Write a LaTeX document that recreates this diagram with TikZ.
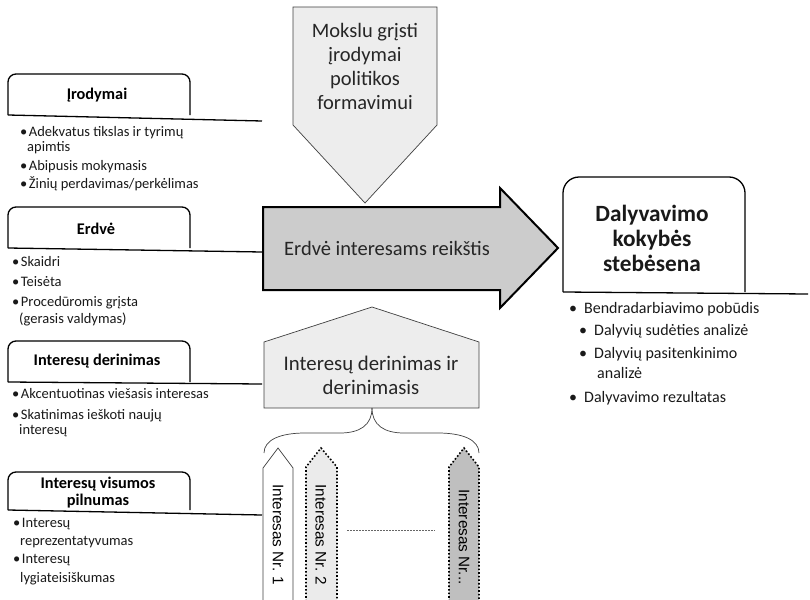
\documentclass[tikz,border=0pt]{standalone}
\usepackage{fontspec}
\setmainfont{Carlito}
\newfontfamily\arialf{Liberation Sans}
\newcommand\bul{•\kern1.5pt}
\begin{document}
\begin{tikzpicture}[x=1pt,y=-1pt,
  lbl/.style={inner sep=0pt, anchor=base west, font=\fontsize{14.5}{15}\selectfont, text=black!90},
  rbl/.style={inner sep=0pt, anchor=base west, font=\fontsize{16}{18}\selectfont, text=black!90},
  ttl/.style={inner sep=0pt, align=center, font=\fontsize{16.3}{17}\selectfont\bfseries},
  tab/.style={line width=1.3pt, rounded corners=8pt},
  bigtxt/.style={inner sep=0pt, align=center, font=\fontsize{20.5}{24}\selectfont, text=black!85},
  vtxt/.style={inner sep=0pt, rotate=-90, font=\arialf\fontsize{15.3}{16}\selectfont}
]
\useasboundingbox (0,0) rectangle (810,599);
\clip (0,0) rectangle (810,599);

% ---------- left tabs ----------
\draw[tab] (8,115) -- (8,74) -- (190,74) -- (190,115);
\draw[line width=1.3pt] (8,115) coordinate (t1a) -- (262,121) coordinate (t1b);
\node[ttl] (t1) at (97,95) {Įrodymai};
\node[lbl] (b11) at (20,136) {\bul Adekvatus tikslas ir tyrimų};
\node[lbl] (b12) at (27,151) {apimtis};
\node[lbl] (b13) at (20,170) {\bul Abipusis mokymasis};
\node[lbl] (b14) at (20,188) {\bul Žinių perdavimas/perkėlimas};

\draw[tab] (8,248) -- (8,207) -- (190,207) -- (190,248);
\draw[line width=1.3pt] (8,248) coordinate (t2a) -- (262,252) coordinate (t2b);
\node[ttl] (t2) at (96,229) {Erdvė};
\node[lbl] (b21) at (12,266) {\bul Skaidri};
\node[lbl] (b22) at (12,286) {\bul Teisėta};
\node[lbl] (b23) at (12,306) {\bul Procedūromis grįsta};
\node[lbl] (b24) at (19,323) {(gerasis valdymas)};

\draw[tab] (8,382) -- (8,341) -- (190,341) -- (190,382);
\draw[line width=1.3pt] (8,382) coordinate (t3a) -- (262,384) coordinate (t3b);
\node[ttl] (t3) at (97,361) {Interesų derinimas};
\node[lbl] (b31) at (12,398) {\bul Akcentuotinas viešasis interesas};
\node[lbl] (b32) at (12,419) {\bul Skatinimas ieškoti naujų};
\node[lbl] (b33) at (19,434) {interesų};

\draw[tab] (8,510) -- (8,472) -- (190,472) -- (190,510);
\draw[line width=1.3pt] (8,510) coordinate (t4a) -- (262,515) coordinate (t4b);
\node[ttl] (t4) at (98,493) {Interesų visumos\\pilnumas};
\node[lbl] (b41) at (13,527) {\bul Interesų};
\node[lbl] (b42) at (20,545) {reprezentatyvumas};
\node[lbl] (b43) at (13,563) {\bul Interesų};
\node[lbl] (b44) at (20,582) {lygiateisiškumas};

% ---------- top down arrow ----------
\draw[fill=black!7, draw=black!75, line width=0.7pt] (293,7) -- (437,7) -- (437,125) -- (365,203) -- (293,125) -- cycle;
\node[bigtxt] (mok) at (365,66) {Mokslu grįsti\\įrodymai\\politikos\\formavimui};

% ---------- big right arrow ----------
\draw[fill=black!20, line width=2pt] (263,207) -- (500,207) -- (500,188) -- (558,248) -- (500,308) -- (500,290) -- (263,290) -- cycle;
\node[bigtxt] (erd) at (387,248) {Erdvė interesams reikštis};

% ---------- right tab ----------
\draw[line width=1.3pt, rounded corners=16pt] (563,292) -- (563,177) -- (745,177) -- (745,292);
\draw[line width=1.3pt] (563,292) coordinate (r1a) -- (808,294) coordinate (r1b);
\node[inner sep=0pt, align=center, font=\fontsize{23.3}{25}\selectfont\bfseries, text=black!90] (dal) at (652,238) {Dalyvavimo\\kokybės\\stebėsena};
\node[rbl] (r1) at (569,313) {\bul\kern5.5pt Bendradarbiavimo pobūdis};
\node[rbl] (r2) at (579,335) {\bul\kern5.5pt Dalyvių sudėties analizė};
\node[rbl] (r3) at (579,358) {\bul\kern5.5pt Dalyvių pasitenkinimo};
\node[rbl] (r4) at (597,378) {analizė};
\node[rbl] (r5) at (569,402) {\bul\kern5.5pt Dalyvavimo rezultatas};

% ---------- house ----------
\draw[fill=black!7, draw=black!75, line width=0.7pt] (264,408) -- (264,342) -- (372,307) -- (479,342) -- (479,408) -- cycle;
\node[bigtxt, font=\fontsize{20.8}{24}\selectfont] (der) at (371,375) {Interesų derinimas ir\\derinimasis};

% ---------- brace ----------
\coordinate (bc) at (372,408);
\draw[black!75, line width=0.7pt] (264,453) .. controls (264,440) and (280,433) .. (305,433) -- (340,433) .. controls (360,433) and (372,425) .. (bc);
\draw[black!75, line width=0.7pt] (479,453) .. controls (479,440) and (463,433) .. (438,433) -- (404,433) .. controls (384,433) and (372,425) .. (bc);

% ---------- vertical arrows ----------
\draw[fill=white, draw=black!75, line width=0.7pt] (263,605) -- (263,468) -- (278,448) -- (293,468) -- (293,605);
\node[vtxt] (i1) at (278,535) {Interesas Nr. 1};
\draw[fill=black!8, line width=1.6pt, dotted] (306,605) -- (306,467) -- (321,448) -- (337,467) -- (337,605);
\node[vtxt] (i2) at (321,535) {Interesas Nr. 2};
\draw[fill=black!25, line width=1.6pt, dotted] (449,605) -- (449,467) -- (464,448) -- (479,467) -- (479,605);
\node[vtxt] (i3) at (464,537) {Interesas Nr...};
\coordinate (d1) at (347,530);
\coordinate (d2) at (435,530);
\draw[black!60, line width=0.6pt, dash pattern=on 2pt off 1pt] (d1) -- (d2);
\end{tikzpicture}
\end{document}
